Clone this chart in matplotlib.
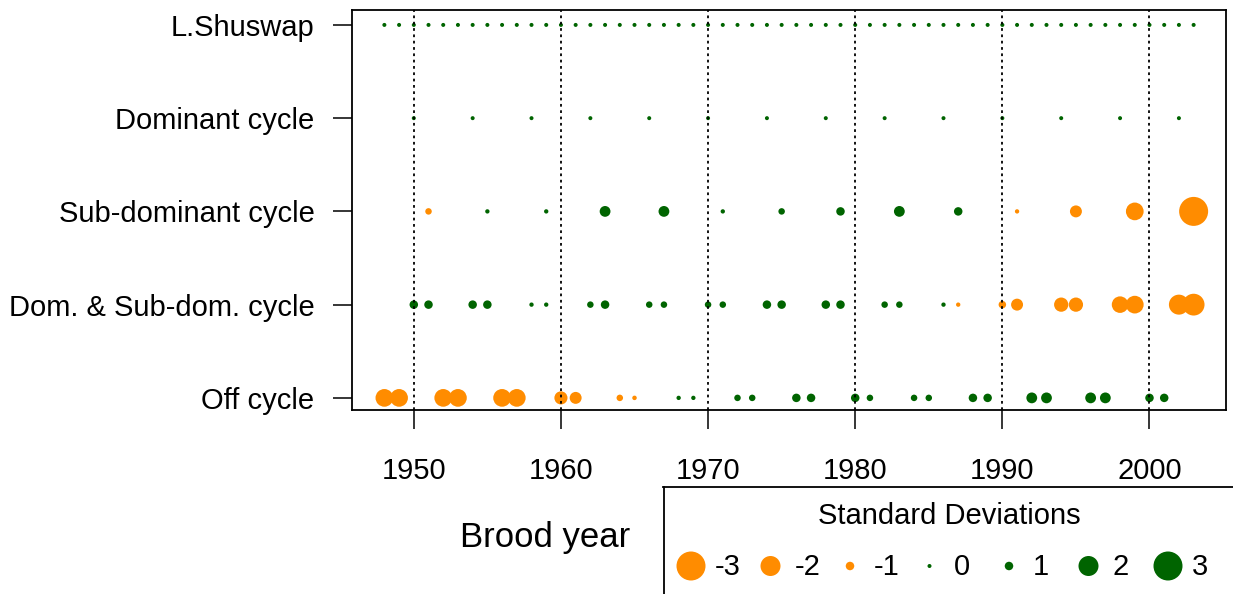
import numpy as np
import matplotlib
matplotlib.use("Agg")
import matplotlib.pyplot as plt

plt.rcParams['font.family'] = ['Liberation Sans', 'DejaVu Sans']

# ---------------- data ----------------
row_labels = ["Off cycle", "Dom. & Sub-dom. cycle", "Sub-dominant cycle",
              "Dominant cycle", "L.Shuswap"]

shuswap_years = [1948, 1949, 1950, 1951, 1952, 1953, 1954, 1955, 1956, 1957,
                 1958, 1959, 1960, 1961, 1962, 1963, 1964, 1965, 1966, 1967,
                 1968, 1969, 1970, 1971, 1972, 1973, 1974, 1975, 1976, 1977,
                 1978, 1979, 1980, 1981, 1982, 1983, 1984, 1985, 1986, 1987,
                 1988, 1989, 1990, 1991, 1992, 1993, 1994, 1995, 1996, 1997,
                 1998, 1999, 2000, 2001, 2002, 2003]
shuswap_sd = [0, 0, 0, 0, 0, 0, 0, 0, 0, 0, 0, 0, 0, 0, 0, 0, 0, 0, 0, 0,
              0, 0, 0, 0, 0, 0, 0, 0, 0, 0, 0, 0, 0, 0, 0, 0, 0, 0, 0, 0,
              0, 0, 0, 0, 0, 0, 0, 0, 0, 0, 0, 0, 0, 0, 0, 0]

dominant_years = [1950, 1954, 1958, 1962, 1966, 1970, 1974, 1978, 1982, 1986,
                  1990, 1994, 1998, 2002]
dominant_sd = [0, 0, 0, 0, 0, 0, 0, 0, 0, 0, 0, 0, 0, 0]

subdom_years = [1951, 1955, 1959, 1963, 1967, 1971, 1975, 1979, 1983, 1987,
                1991, 1995, 1999, 2003]
subdom_sd = [-0.6, 0.2, 0.2, 1.2, 1.2, 0.2, 0.6, 1.0, 1.2, 1.0,
             -0.2, -1.3, -1.8, -3.0]

domsub_years = [1950, 1951, 1954, 1955, 1958, 1959, 1962, 1963, 1966, 1967,
                1970, 1971, 1974, 1975, 1978, 1979, 1982, 1983, 1986, 1987,
                1990, 1991, 1994, 1995, 1998, 1999, 2002, 2003]
domsub_sd = [1.0, 1.0, 1.0, 1.0, 0.2, 0.2, 0.6, 1.0, 0.6, 0.6,
             0.6, 0.6, 1.0, 1.0, 1.0, 1.0, 0.6, 0.6, 0.2, -0.2,
             -0.8, -1.3, -1.5, -1.5, -1.7, -1.8, -2.0, -2.2]

off_years = [1948, 1949, 1952, 1953, 1956, 1957, 1960, 1961, 1964, 1965,
             1968, 1969, 1972, 1973, 1976, 1977, 1980, 1981, 1984, 1985,
             1988, 1989, 1992, 1993, 1996, 1997, 2000, 2001]
off_sd = [-1.8, -1.8, -1.8, -1.8, -1.8, -1.8, -1.4, -1.3, -0.6, -0.3,
          0.2, 0.2, 0.6, 0.6, 1.0, 1.0, 1.0, 0.6, 0.6, 0.6,
          1.0, 1.0, 1.2, 1.2, 1.2, 1.2, 1.0, 1.0]

x_ticks = [1950, 1960, 1970, 1980, 1990, 2000]
legend_values = [-3, -2, -1, 0, 1, 2, 3]
legend_title = "Standard Deviations"
x_label = "Brood year"

# ---------------- style ----------------
ORANGE = "#FF8C00"
GREEN = "#006400"
W, H = 1233, 594
FS = 21


def diam_px(v):
    return np.interp(np.abs(v), [0, 0.3, 0.6, 1, 2, 3], [4, 4.5, 6.5, 8.5, 20, 29])


def sizes(vals):
    d = diam_px(np.asarray(vals, dtype=float)) * 0.72  # px -> pt
    return d ** 2


def colors(vals):
    return [ORANGE if v < 0 else GREEN for v in vals]


fig = plt.figure(figsize=(W / 100, H / 100), dpi=100)
ax = fig.add_axes([352 / W, 1 - 410 / H, (1226 - 352) / W, (410 - 10) / H])

rows = [(off_years, off_sd), (domsub_years, domsub_sd), (subdom_years, subdom_sd),
        (dominant_years, dominant_sd), (shuswap_years, shuswap_sd)]
for i, (yrs, sd) in enumerate(rows):
    ax.scatter(yrs, np.full(len(yrs), i + 1), s=sizes(sd), c=colors(sd),
               linewidths=0, zorder=2)

for xv in x_ticks:
    ax.axvline(xv, color="black", lw=1.3, ls=(0, (1.5, 2.0)), zorder=3)

ax.set_xlim(1945.8, 2005.2)
ax.set_ylim(0.87, 5.16)
ax.set_xticks(x_ticks)
ax.set_xticklabels([str(t) for t in x_ticks], fontsize=FS)
ax.set_yticks([1, 2, 3, 4, 5])
ax.set_yticklabels(row_labels, fontsize=FS)
ax.tick_params(axis="x", length=14, width=1.1, pad=20)
ax.tick_params(axis="y", length=14, width=1.1, pad=13)
for sp in ax.spines.values():
    sp.set_linewidth(1.3)

fig.text(545 / W, 1 - 538 / H, x_label, ha="center", va="center", fontsize=25)

# ---------------- legend ----------------
lx0, ly0 = 663, 487
lax = fig.add_axes([lx0 / W, 0, (W - lx0) / W, (H - ly0) / H])
lax.set_xlim(0, W - lx0)
lax.set_ylim(0, H - ly0)
lax.set_xticks([])
lax.set_yticks([])
lax.patch.set_alpha(0)
for name, sp in lax.spines.items():
    sp.set_visible(name in ("left", "top"))
    sp.set_linewidth(1.3)
lax.spines["left"].set_position(("data", 1))

x_first, step = 28, 79.5
lx = x_first + step * np.arange(len(legend_values))
ly = H - 566
lax.scatter(lx, np.full(len(lx), ly), s=sizes(legend_values),
            c=colors(legend_values), linewidths=0, clip_on=False)
for xx, v in zip(lx, legend_values):
    lax.text(xx + 24, ly - 1, str(v), fontsize=FS, ha="left", va="center")
lax.text(286, H - 516, legend_title, fontsize=FS, ha="center", va="center")

fig.savefig("out.png", dpi=100)
